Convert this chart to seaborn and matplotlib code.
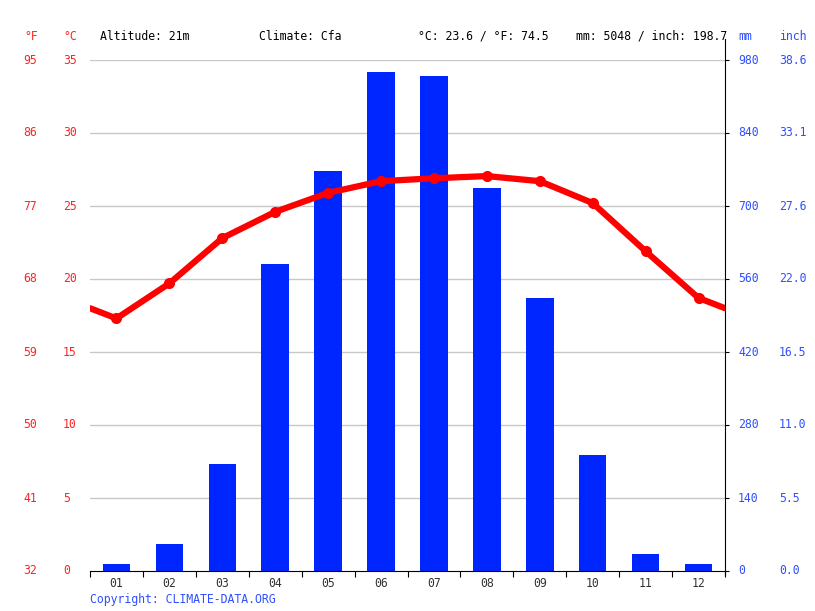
import numpy as np
import pandas as pd
import matplotlib
matplotlib.use("Agg")
import matplotlib.pyplot as plt
import matplotlib.transforms as mtransforms
import seaborn as sns

sns.set_style("white")
plt.rcParams['font.family'] = ['DejaVu Sans Mono', 'DejaVu Sans']

# data
months = ["01", "02", "03", "04", "05", "06", "07", "08", "09", "10", "11", "12"]
precip_mm = [14, 52, 205, 589, 767, 957, 949, 735, 524, 222, 33, 13]
temp_c = [17.3, 19.7, 22.8, 24.6, 25.9, 26.7, 26.9, 27.05, 26.7, 25.2, 21.9, 18.7]

c_ticks = [0, 5, 10, 15, 20, 25, 30, 35]
f_labels = ["32", "41", "50", "59", "68", "77", "86", "95"]
mm_ticks = [0, 140, 280, 420, 560, 700, 840, 980]
inch_labels = ["0.0", "5.5", "11.0", "16.5", "22.0", "27.6", "33.1", "38.6"]

header = {"alt": "Altitude: 21m", "clim": "Climate: Cfa",
          "temp": "°C: 23.6 / °F: 74.5", "rain": "mm: 5048 / inch: 198.7"}

RED = "#ff0000"
RED_TXT = "#ff2222"
BLUE = "#0026ff"
BLUE_TXT = "#2f4fff"
W, H = 815, 611

fig = plt.figure(figsize=(W / 100, H / 100), dpi=100)
ax = fig.add_axes([90 / W, 1 - 571 / H, (725 - 90) / W, (571 - 60) / H])
axt = ax.twinx()

df = pd.DataFrame({"pos": np.arange(12) + 0.5, "mm": precip_mm, "c": temp_c})

# bars (precipitation) on main axis
ax.bar(df["pos"], df["mm"], width=0.52, color=BLUE, linewidth=0, zorder=2)
ax.set_ylim(0, 980)
ax.set_xlim(0, 12)
for v in mm_ticks[1:]:
    ax.axhline(v, color="#c8c8c8", lw=1, zorder=1)

# temperature line, wrapping at the year edges
edge = (temp_c[0] + temp_c[-1]) / 2
line_x = [0] + list(df["pos"]) + [12]
line_y = [edge] + temp_c + [edge]
sns.lineplot(x=line_x, y=line_y, ax=axt, color=RED, lw=4.5, sort=False,
             marker="o", markersize=8, markeredgewidth=0, markevery=list(range(1, 13)))
axt.set_ylim(0, 35)
axt.set_xlim(0, 12)

for a in (ax, axt):
    a.set_yticks([])
    a.set_ylabel("")
    for s in ("left", "top", "right", "bottom"):
        a.spines[s].set_visible(False)

ax.spines["bottom"].set_visible(True)
ax.spines["bottom"].set_color("black")
ax.spines["right"].set_visible(True)
ax.spines["right"].set_color("black")
ax.spines["right"].set_bounds(-8, 1020)
ax.set_yticks(mm_ticks)
ax.yaxis.tick_right()
ax.tick_params(axis="y", right=True, length=3, labelright=False, color="black")

ax.set_xticks(np.arange(13))
ax.set_xticklabels([])
ax.set_xticks(df["pos"], minor=True)
ax.set_xticklabels(months, minor=True)
ax.tick_params(axis="x", which="major", length=4, direction="out", color="black", bottom=True)
ax.tick_params(axis="x", which="minor", length=0, pad=4, labelsize=8.3, labelcolor="#333333")

fs = 8.3
tr_c = mtransforms.blended_transform_factory(fig.transFigure, axt.transData)
tr_mm = mtransforms.blended_transform_factory(fig.transFigure, ax.transData)
for c, f in zip(c_ticks, f_labels):
    fig.text(63 / W, c, str(c), transform=tr_c, color=RED_TXT, fontsize=fs, ha="left", va="center")
    fig.text(23 / W, c, f, transform=tr_c, color=RED_TXT, fontsize=fs, ha="left", va="center")
for m, i in zip(mm_ticks, inch_labels):
    fig.text(738 / W, m, str(m), transform=tr_mm, color=BLUE_TXT, fontsize=fs, ha="left", va="center")
    fig.text(779 / W, m, i, transform=tr_mm, color=BLUE_TXT, fontsize=fs, ha="left", va="center")

ty = 1 - 36 / H
fig.text(24 / W, ty, "°F", color=RED_TXT, fontsize=fs, va="center")
fig.text(63 / W, ty, "°C", color=RED_TXT, fontsize=fs, va="center")
fig.text(738 / W, ty, "mm", color=BLUE_TXT, fontsize=fs, va="center")
fig.text(779 / W, ty, "inch", color=BLUE_TXT, fontsize=fs, va="center")
fig.text(100 / W, ty, header["alt"], color="black", fontsize=fs, va="center")
fig.text(259 / W, ty, header["clim"], color="black", fontsize=fs, va="center")
fig.text(418 / W, ty, header["temp"], color="black", fontsize=fs, va="center")
fig.text(576 / W, ty, header["rain"], color="black", fontsize=fs, va="center")
fig.text(90 / W, 1 - 599 / H, "Copyright: CLIMATE-DATA.ORG", color=BLUE_TXT, fontsize=fs, va="center")

fig.savefig("out.png", dpi=100)
